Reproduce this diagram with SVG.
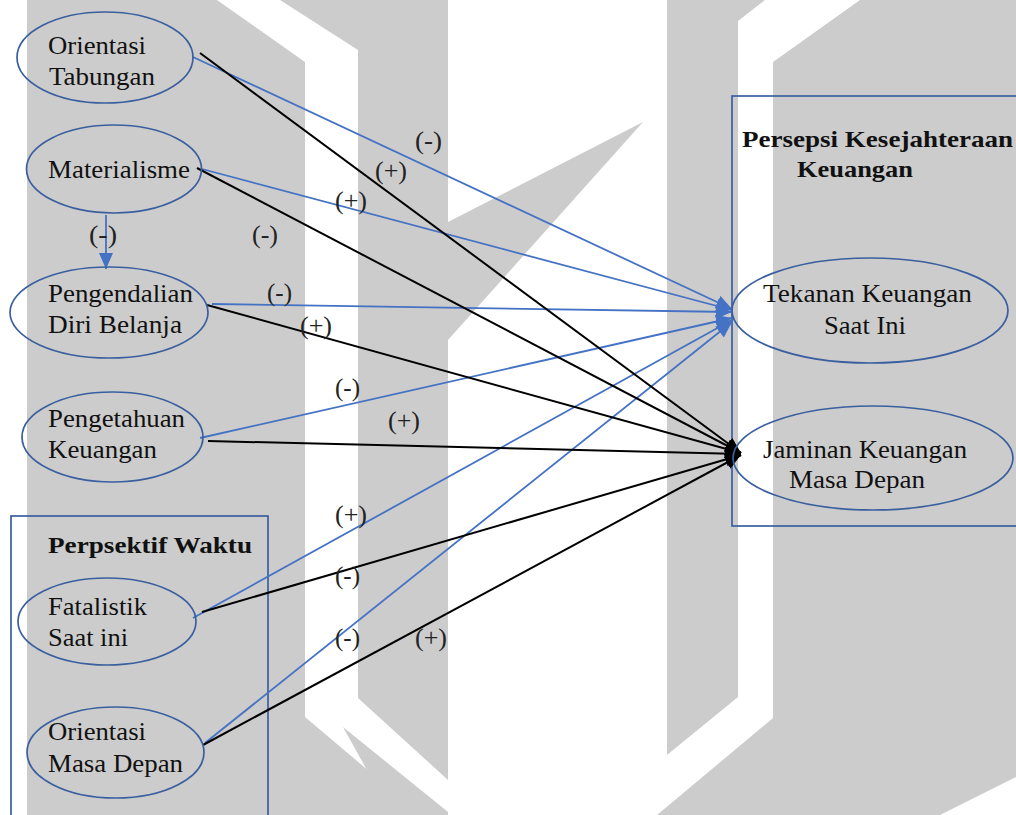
<svg xmlns="http://www.w3.org/2000/svg" width="1016" height="815" viewBox="0 0 1016 815">
<style>
.wm{fill:#cccccc;stroke:none}
.el{fill:none;stroke:#3A5F9F;stroke-width:1.7}
.bx{fill:none;stroke:#3A5F9F;stroke-width:1.7}
.t{font-family:"Liberation Serif","Times New Roman",serif;font-size:25px;fill:#111}
.h{font-family:"Liberation Serif","Times New Roman",serif;font-size:24px;font-weight:bold;fill:#111}
.lb{font-family:"Liberation Serif","Times New Roman",serif;font-size:25px;fill:#222}
.bl{stroke:#4472C4;stroke-width:1.8;fill:none;marker-end:url(#ab)}
.bk{stroke:#000;stroke-width:2;fill:none;marker-end:url(#ak)}
</style>
<defs>
<marker id="ab" markerUnits="userSpaceOnUse" markerWidth="17" markerHeight="14" refX="16" refY="7" orient="auto"><path d="M0,0 L16,7 L0,14 z" fill="#4472C4"/></marker>
<marker id="ak" markerUnits="userSpaceOnUse" markerWidth="17" markerHeight="14" refX="16" refY="7" orient="auto"><path d="M0,0 L16,7 L0,14 z" fill="#000"/></marker>
</defs>
<rect width="1016" height="815" fill="#fff"/>
<g id="watermark">
<polygon class="wm" points="27,0 217,0 305,62 305,717 421,815 27,815"/>
<polygon class="wm" points="280,0 448,0 448,222 643,122 448,340 448,780 358,698 358,50"/>
<polygon class="wm" points="343,727 448,812 448,815 392,815"/>
<polygon class="wm" points="667,0 765,0 738,21 738,697 667,755"/>
<polygon class="wm" points="860,0 1016,0 1016,777 940,815 657,815 773,718 773,62"/>
</g>
<g id="group-perspektif">
<rect class="bx" x="11" y="516" width="257" height="310"/>
<text class="h" x="48" y="553" textLength="204" lengthAdjust="spacingAndGlyphs">Perpsektif Waktu</text>
</g>
<g id="group-persepsi">
<rect class="bx" x="732" y="96" width="300" height="430"/>
<text class="h" x="742" y="147" textLength="271" lengthAdjust="spacingAndGlyphs">Persepsi Kesejahteraan</text>
<text class="h" x="797" y="177" textLength="116" lengthAdjust="spacingAndGlyphs">Keuangan</text>
</g>
<g id="connectors">
<line class="bl" x1="106" y1="215" x2="106" y2="269"/>
<line class="bl" x1="193" y1="57" x2="732" y2="309"/>
<line class="bl" x1="202" y1="169" x2="732" y2="310"/>
<line class="bl" x1="212" y1="304" x2="732" y2="312"/>
<line class="bl" x1="200" y1="438" x2="732" y2="318"/>
<line class="bl" x1="193" y1="618" x2="732" y2="320"/>
<line class="bl" x1="205" y1="743" x2="732" y2="322"/>
<line class="bk" x1="200" y1="53" x2="741" y2="453"/>
<line class="bk" x1="197" y1="168" x2="741" y2="453"/>
<line class="bk" x1="207" y1="305" x2="741" y2="453"/>
<line class="bk" x1="208" y1="441" x2="741" y2="454"/>
<line class="bk" x1="202" y1="612" x2="741" y2="455"/>
<line class="bk" x1="203" y1="745" x2="741" y2="455"/>
</g>
<g id="labels">
<text class="lb" x="415" y="149" textLength="27" lengthAdjust="spacingAndGlyphs">(-)</text>
<text class="lb" x="375" y="179" textLength="32" lengthAdjust="spacingAndGlyphs">(+)</text>
<text class="lb" x="335" y="209" textLength="32" lengthAdjust="spacingAndGlyphs">(+)</text>
<text class="lb" x="89" y="243" textLength="28" lengthAdjust="spacingAndGlyphs">(-)</text>
<text class="lb" x="252" y="243" textLength="26" lengthAdjust="spacingAndGlyphs">(-)</text>
<text class="lb" x="267" y="301" textLength="25" lengthAdjust="spacingAndGlyphs">(-)</text>
<text class="lb" x="300" y="334" textLength="32" lengthAdjust="spacingAndGlyphs">(+)</text>
<text class="lb" x="335" y="396" textLength="25" lengthAdjust="spacingAndGlyphs">(-)</text>
<text class="lb" x="388" y="429" textLength="32" lengthAdjust="spacingAndGlyphs">(+)</text>
<text class="lb" x="335" y="523" textLength="32" lengthAdjust="spacingAndGlyphs">(+)</text>
<text class="lb" x="335" y="584" textLength="25" lengthAdjust="spacingAndGlyphs">(-)</text>
<text class="lb" x="335" y="646" textLength="25" lengthAdjust="spacingAndGlyphs">(-)</text>
<text class="lb" x="415" y="646" textLength="32" lengthAdjust="spacingAndGlyphs">(+)</text>
</g>
<g id="node-orientasi-tabungan">
<ellipse class="el" cx="105" cy="57.5" rx="88" ry="45.5"/>
<text class="t" x="48" y="54" textLength="98" lengthAdjust="spacingAndGlyphs">Orientasi</text>
<text class="t" x="49" y="85" textLength="106" lengthAdjust="spacingAndGlyphs">Tabungan</text>
</g>
<g id="node-materialisme">
<ellipse class="el" cx="114" cy="169" rx="87.5" ry="44"/>
<text class="t" x="48" y="178" textLength="142" lengthAdjust="spacingAndGlyphs">Materialisme</text>
</g>
<g id="node-pengendalian">
<ellipse class="el" cx="109" cy="312.5" rx="99" ry="45.5"/>
<text class="t" x="48" y="302" textLength="145" lengthAdjust="spacingAndGlyphs">Pengendalian</text>
<text class="t" x="48" y="333" textLength="134" lengthAdjust="spacingAndGlyphs">Diri Belanja</text>
</g>
<g id="node-pengetahuan">
<ellipse class="el" cx="112.5" cy="437" rx="90.5" ry="45"/>
<text class="t" x="48" y="427" textLength="137" lengthAdjust="spacingAndGlyphs">Pengetahuan</text>
<text class="t" x="48" y="458" textLength="109" lengthAdjust="spacingAndGlyphs">Keuangan</text>
</g>
<g id="node-fatalistik">
<ellipse class="el" cx="107" cy="621.5" rx="89" ry="43.5"/>
<text class="t" x="48" y="615" textLength="99" lengthAdjust="spacingAndGlyphs">Fatalistik</text>
<text class="t" x="48" y="646" textLength="80" lengthAdjust="spacingAndGlyphs">Saat ini</text>
</g>
<g id="node-orientasi-masa-depan">
<ellipse class="el" cx="115.5" cy="752.5" rx="88.5" ry="45.5"/>
<text class="t" x="48" y="740" textLength="98" lengthAdjust="spacingAndGlyphs">Orientasi</text>
<text class="t" x="48" y="772" textLength="135" lengthAdjust="spacingAndGlyphs">Masa Depan</text>
</g>
<g id="node-tekanan">
<ellipse class="el" cx="870" cy="310.5" rx="138" ry="52.5"/>
<text class="t" x="763" y="302" textLength="209" lengthAdjust="spacingAndGlyphs">Tekanan Keuangan</text>
<text class="t" x="824" y="334" textLength="82" lengthAdjust="spacingAndGlyphs">Saat Ini</text>
</g>
<g id="node-jaminan">
<ellipse class="el" cx="873" cy="458" rx="140" ry="52"/>
<text class="t" x="763" y="458" textLength="204" lengthAdjust="spacingAndGlyphs">Jaminan Keuangan</text>
<text class="t" x="789" y="488" textLength="136" lengthAdjust="spacingAndGlyphs">Masa Depan</text>
</g>
</svg>
